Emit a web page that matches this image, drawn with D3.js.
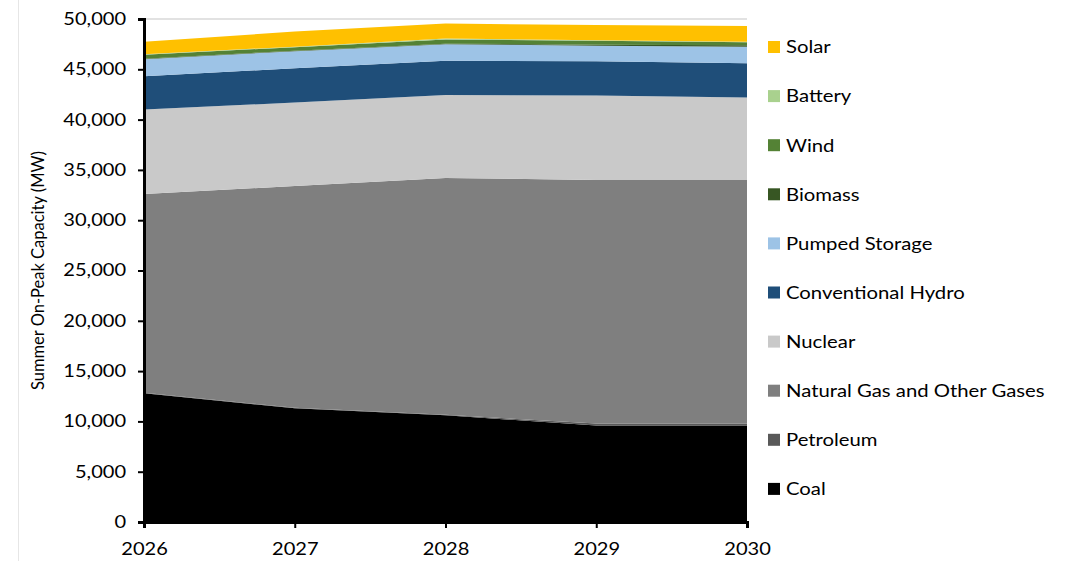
<!DOCTYPE html>
<html>
<head>
<meta charset="utf-8">
<script src="https://cdn.jsdelivr.net/npm/d3@7"></script>
<style>
  body { margin: 0; background: #fff; }
  svg { display: block; font-family: Lato, "Liberation Sans", sans-serif; }
</style>
</head>
<body>
<svg id="chart" width="1070" height="561"></svg>
<script>
const years = [2026, 2027, 2028, 2029, 2030];
const seriesNames = ["Coal", "Petroleum", "Natural Gas and Other Gases", "Nuclear",
  "Conventional Hydro", "Pumped Storage", "Biomass", "Wind", "Battery", "Solar"];
const coal      = [12800, 11300, 10600, 9600, 9600];
const petroleum = [50, 50, 50, 200, 200];
const gas       = [19750, 22050, 23550, 24200, 24200];
const nuclear   = [8400, 8300, 8250, 8400, 8200];
const hydro     = [3300, 3400, 3400, 3400, 3400];
const pumped    = [1700, 1700, 1650, 1550, 1650];
const biomass   = [50, 50, 50, 100, 150];
const wind      = [400, 350, 400, 400, 300];
const battery   = [50, 50, 100, 50, 50];
const solar     = [1250, 1500, 1500, 1500, 1550];
const colors = ["#000000", "#595959", "#7f7f7f", "#c9c9c9", "#1f4e79",
  "#9dc3e6", "#375623", "#548235", "#a9d18e", "#ffc000"];
const yTicks = [0, 5000, 10000, 15000, 20000, 25000, 30000, 35000, 40000, 45000, 50000];
const yTitle = "Summer On-Peak Capacity (MW)";

const valuesList = [coal, petroleum, gas, nuclear, hydro, pumped, biomass, wind, battery, solar];
const table = years.map((yr, i) => {
  const row = { year: yr };
  seriesNames.forEach((n, k) => row[n] = valuesList[k][i]);
  return row;
});

const svg = d3.select("#chart");
const pLeft = 144, pRight = 747, pTop = 19, pBottom = 522;
const sx = 1.18; // horizontal text stretch to mimic reference glyph widths
const x = d3.scaleLinear().domain([2026, 2030]).range([pLeft, pRight]);
const y = d3.scaleLinear().domain([0, 50000]).range([pBottom, pTop]);

// faint frame line at left
svg.append("line").attr("x1", 18.5).attr("x2", 18.5).attr("y1", 0).attr("y2", 561)
  .attr("stroke", "#e6e6e6").attr("stroke-width", 1);

// top gridline
svg.append("line").attr("x1", pLeft).attr("x2", pRight).attr("y1", y(50000)).attr("y2", y(50000))
  .attr("stroke", "#d9d9d9").attr("stroke-width", 1.5);

const stack = d3.stack().keys(seriesNames).order(d3.stackOrderNone).offset(d3.stackOffsetNone);
const layers = stack(table);
const area = d3.area().x(d => x(d.data.year)).y0(d => y(d[0])).y1(d => y(d[1]));

svg.append("g").selectAll("path").data(layers).join("path")
  .attr("d", area).attr("fill", (d, i) => colors[i]);

// y axis
const yAxis = d3.axisLeft(y).tickValues(yTicks).tickFormat(d3.format(",")).tickSize(6).tickPadding(9);
const gy = svg.append("g").attr("transform", `translate(${pLeft},0)`).call(yAxis);
gy.select(".domain").attr("stroke", "#000").attr("stroke-width", 3);
gy.selectAll(".tick line").attr("stroke", "#000").attr("stroke-width", 2);
gy.selectAll(".tick text").attr("font-size", 17).attr("fill", "#000")
  .attr("font-family", "Lato, 'Liberation Sans', sans-serif")
  .attr("x", -18 / sx).attr("transform", `scale(${sx},1)`);

// x axis
const xAxis = d3.axisBottom(x).tickValues(years).tickFormat(d3.format("d")).tickSize(6).tickPadding(15);
const gx = svg.append("g").attr("transform", `translate(0,${pBottom})`).call(xAxis);
gx.select(".domain").attr("stroke", "#000").attr("stroke-width", 3);
gx.selectAll(".tick line").attr("stroke", "#000").attr("stroke-width", 2);
gx.selectAll(".tick text").attr("font-size", 17).attr("fill", "#000")
  .attr("font-family", "Lato, 'Liberation Sans', sans-serif")
  .attr("transform", `scale(${sx},1)`);

// y title
svg.append("text").attr("transform", `translate(44,${(pTop + pBottom) / 2}) rotate(-90)`)
  .attr("text-anchor", "middle").attr("font-size", 16.5).attr("fill", "#000").text(yTitle);

// legend (top to bottom reversed order)
const legendNames = seriesNames.slice().reverse();
const legendColors = colors.slice().reverse();
const lg = svg.append("g");
legendNames.forEach((n, i) => {
  const cy = 47 + i * 49.1;
  lg.append("rect").attr("x", 768).attr("y", cy - 6).attr("width", 12).attr("height", 12)
    .attr("fill", legendColors[i]);
  lg.append("text").attr("transform", `translate(786,${cy}) scale(1.16,1)`).attr("dy", "0.36em")
    .attr("font-size", 17.5).attr("fill", "#000").text(n);
});
</script>
</body>
</html>
